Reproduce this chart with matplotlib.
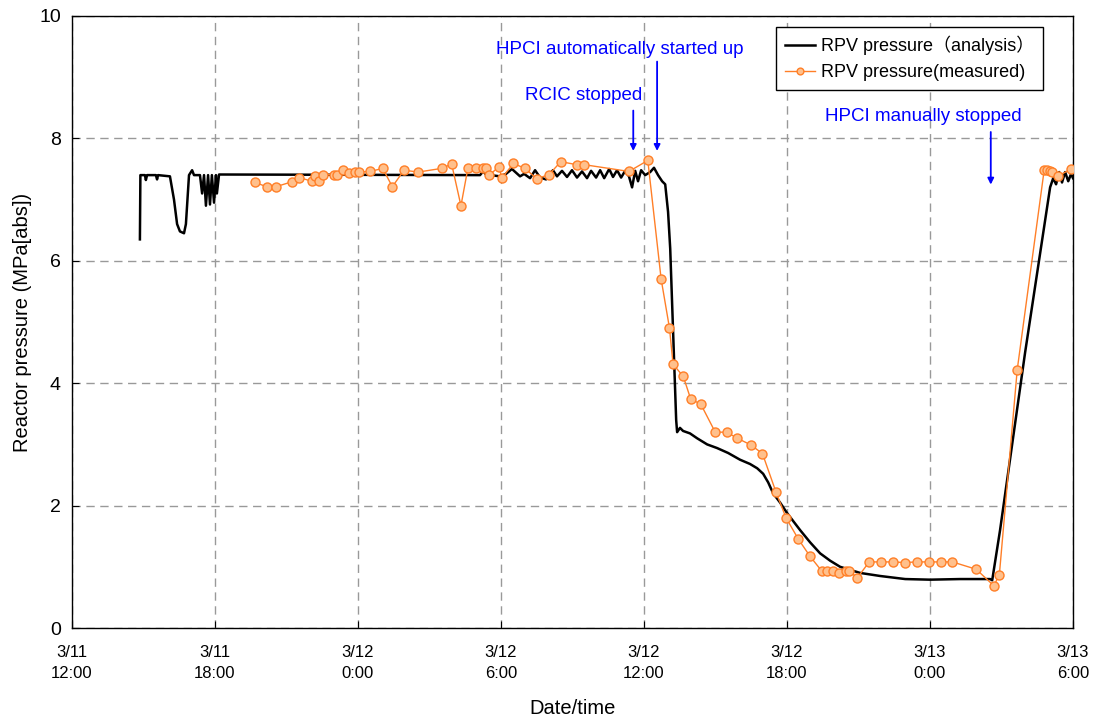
import numpy as np
import matplotlib.pyplot as plt

plt.rcParams['font.family'] = ['Liberation Sans', 'Noto Sans CJK JP', 'DejaVu Sans']

# hours after 3/11 12:00
ana_t = [2.85, 2.87, 3.06, 3.10, 3.15, 3.52, 3.57, 3.61, 4.11, 4.28, 4.41, 4.53, 4.70, 4.78, 4.91,
         5.04, 5.12, 5.37, 5.46, 5.54, 5.62, 5.71, 5.79, 5.87, 5.96, 6.04, 6.08, 6.17, 17.12, 17.25,
         17.37, 17.96, 18.21, 18.46, 18.80, 18.97, 19.22, 19.43, 19.64, 19.89, 20.18, 20.35, 20.56,
         20.77, 20.98, 21.19, 21.40, 21.61, 21.78, 21.99, 22.16, 22.33, 22.54, 22.70, 22.87, 23.04,
         23.21, 23.37, 23.50, 23.63, 23.75, 23.88, 24.05, 24.26, 24.42, 24.59, 24.76, 24.89, 25.01,
         25.10, 25.35, 25.39, 25.51, 25.64, 25.93, 26.23, 26.65, 27.07, 27.53, 28.03, 28.45, 28.75,
         29.00, 29.21, 29.42, 29.71, 30.00, 30.55, 30.97, 31.39, 31.81, 32.23, 33.07, 33.91, 34.96,
         36.00, 37.26, 38.52, 38.61, 38.94, 39.99, 41.04, 41.17, 41.29, 41.42, 41.54, 41.67, 41.80,
         41.92, 42.00]
ana_p = [6.35, 7.40, 7.40, 7.32, 7.40, 7.40, 7.33, 7.40, 7.38, 7.00, 6.60, 6.48, 6.45, 6.60, 7.40,
         7.48, 7.40, 7.40, 7.10, 7.40, 6.90, 7.40, 6.92, 7.40, 6.95, 7.40, 7.10, 7.41, 7.40, 7.46,
         7.41, 7.38, 7.42, 7.50, 7.38, 7.42, 7.35, 7.48, 7.36, 7.33, 7.48, 7.38, 7.47,
         7.37, 7.48, 7.36, 7.46, 7.35, 7.47, 7.36, 7.48, 7.35, 7.50, 7.37, 7.48, 7.36,
         7.47, 7.38, 7.20, 7.47, 7.30, 7.48, 7.40, 7.45, 7.52, 7.40, 7.30, 7.25, 6.80,
         6.20, 3.40, 3.20, 3.27, 3.22, 3.18, 3.10, 3.00, 2.94, 2.86, 2.75, 2.68, 2.61,
         2.52, 2.38, 2.20, 2.05, 1.88, 1.60, 1.40, 1.22, 1.10, 1.00, 0.90, 0.85, 0.80,
         0.79, 0.80, 0.80, 0.78, 1.60, 4.50, 7.20, 7.35, 7.25, 7.45, 7.28, 7.45, 7.30,
         7.42, 7.35]

meas_t = [7.68, 8.17, 8.55, 9.22, 9.54, 10.06, 10.21, 10.38, 10.53, 10.99, 11.12, 11.36, 11.61,
          11.89, 12.04, 12.51, 13.04, 13.44, 13.93, 14.53, 15.51, 15.93, 16.32, 16.61, 16.94,
          17.26, 17.37, 17.51, 17.92, 18.03, 18.52, 19.01, 19.50, 20.02, 20.51, 21.18, 21.50,
          23.37, 24.16, 24.72, 25.07, 25.22, 25.65, 25.96, 26.38, 26.99, 27.47, 27.92, 28.49,
          28.97, 29.54, 29.96, 30.48, 30.97, 31.46, 31.67, 31.95, 32.20, 32.47, 32.62, 32.95,
          33.45, 33.95, 34.44, 34.94, 35.45, 35.95, 36.45, 36.94, 37.94, 38.68, 38.91, 39.66,
          40.79, 40.90, 41.04, 41.11, 41.35, 41.92]
meas_p = [7.28, 7.21, 7.21, 7.29, 7.36, 7.30, 7.38, 7.30, 7.41, 7.41, 7.41, 7.49, 7.43,
          7.45, 7.45, 7.46, 7.51, 7.21, 7.48, 7.45, 7.51, 7.58, 6.90, 7.51, 7.51,
          7.51, 7.51, 7.40, 7.54, 7.35, 7.59, 7.51, 7.34, 7.41, 7.62, 7.57, 7.57,
          7.46, 7.64, 5.70, 4.90, 4.31, 4.11, 3.74, 3.66, 3.20, 3.20, 3.10, 2.99,
          2.85, 2.22, 1.80, 1.45, 1.17, 0.93, 0.93, 0.93, 0.90, 0.93, 0.93, 0.82,
          1.08, 1.08, 1.08, 1.07, 1.08, 1.08, 1.08, 1.08, 0.96, 0.69, 0.87, 4.22,
          7.48, 7.48, 7.47, 7.45, 7.38, 7.50]

xticks = [0, 6, 12, 18, 24, 30, 36, 42]
xlabels = ['3/11\n12:00', '3/11\n18:00', '3/12\n0:00', '3/12\n6:00',
           '3/12\n12:00', '3/12\n18:00', '3/13\n0:00', '3/13\n6:00']

fig = plt.figure(figsize=(10.94, 7.17), dpi=100)
ax = fig.add_axes([0.0658, 0.1241, 0.9150, 0.8536])

ax.plot(ana_t, ana_p, color='black', lw=1.8, label='RPV pressure\uff08analysis\uff09', zorder=3)
ax.plot(meas_t, meas_p, color='#ff7f27', lw=1.0, marker='o', ms=6.5,
        mfc='#ffc08c', mec='#ff7f27', mew=1.0, label='RPV pressure(measured)', zorder=4)

ax.set_xlim(0, 42)
ax.set_ylim(0, 10)
ax.set_xticks(xticks)
ax.set_xticklabels(xlabels, fontsize=12, linespacing=1.5)
ax.set_yticks(range(0, 11, 2))
ax.tick_params(axis='both', direction='in', length=5, width=0.8)
ax.tick_params(axis='y', labelsize=14, pad=8)
ax.tick_params(axis='x', pad=12)
ax.grid(True, color='#999999', ls=(0, (6, 4)), lw=1.0)
for s in ax.spines.values():
    s.set_linewidth(1.0)

ax.set_xlabel('Date/time', fontsize=14.5, labelpad=13)
ax.set_ylabel('Reactor pressure (MPa[abs])', fontsize=14.5, labelpad=5)

blue = '#0000ff'
ax.annotate('', xy=(24.55, 7.75), xytext=(24.55, 9.3),
            arrowprops=dict(arrowstyle='-|>', color=blue, lw=1.3, mutation_scale=9))
ax.text(23.0, 9.46, 'HPCI automatically started up', color=blue, fontsize=13.5, ha='center', va='center')
ax.annotate('', xy=(23.55, 7.75), xytext=(23.55, 8.5),
            arrowprops=dict(arrowstyle='-|>', color=blue, lw=1.3, mutation_scale=9))
ax.text(21.45, 8.7, 'RCIC stopped', color=blue, fontsize=13.5, ha='center', va='center')
ax.annotate('', xy=(38.55, 7.2), xytext=(38.55, 8.15),
            arrowprops=dict(arrowstyle='-|>', color=blue, lw=1.3, mutation_scale=9))
ax.text(35.7, 8.35, 'HPCI manually stopped', color=blue, fontsize=13.5, ha='center', va='center')

leg = ax.legend(loc='upper right', bbox_to_anchor=(0.979, 0.997), fontsize=13,
                frameon=True, fancybox=False, edgecolor='black', framealpha=1,
                handlelength=1.7, handletextpad=0.3, borderpad=0.5, labelspacing=0.5,
                markerscale=0.75)
leg.get_frame().set_linewidth(1.0)

fig.savefig('out.png', dpi=100)
